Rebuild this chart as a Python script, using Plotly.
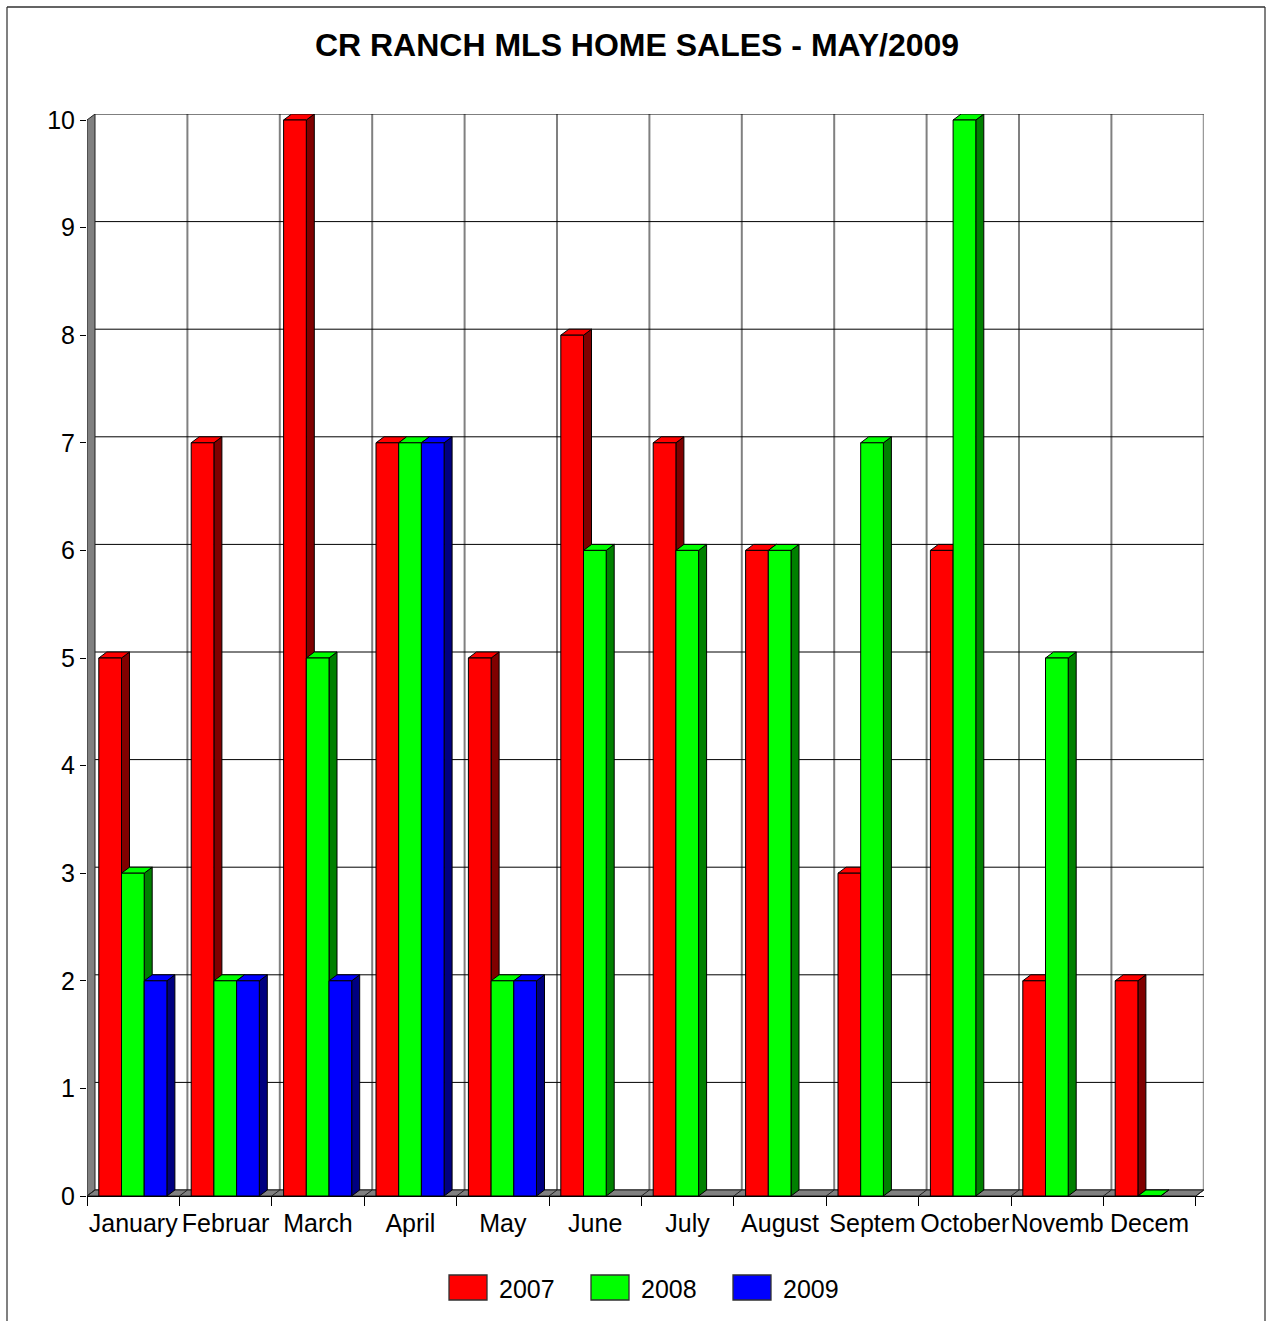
import plotly.graph_objects as go

months_label = ["January", "Februar", "March", "April", "May", "June", "July", "August", "Septem", "October", "Novemb", "Decem"]
sales_2007 = [5, 7, 10, 7, 5, 8, 7, 6, 3, 6, 2, 2]
sales_2008 = [3, 2, 5, 7, 2, 6, 6, 6, 7, 10, 5, 0]
sales_2009 = [2, 2, 2, 7, 2, None, None, None, None, None, None, None]
series_names = ["2007", "2008", "2009"]
front_colors = ["#FF0000", "#00FF00", "#0000FF"]
side_colors = ["#800000", "#008000", "#000080"]
y_ticks = list(range(11))

W, H = 1272, 1321
FONT = "Liberation Sans"
# pixel geometry of the pseudo-3D frame
LEFT, FRONT_RIGHT, BOTTOM, FRONT_TOP = 87.0, 1195.8, 1196.0, 120.0
DX_PX, DY_PX = 8.0, 6.0
px_x = (FRONT_RIGHT - LEFT) / 12
px_y = (BOTTOM - FRONT_TOP) / 10
dx, dy = DX_PX / px_x, DY_PX / px_y
bar_w = 22.7 / px_x
bar_off = 11.8 / px_x
x_range = [0, 12 + dx]
y_range = [0, 10 + dy]
PX = lambda p: p / W
PY = lambda p: 1 - p / H

fig = go.Figure()


def polys(list_of_pts, fill, line="black", lw=1.0):
    xs, ys = [], []
    for pts in list_of_pts:
        xs += [p[0] for p in pts] + [pts[0][0], None]
        ys += [p[1] for p in pts] + [pts[0][1], None]
    fig.add_trace(go.Scatter(x=xs, y=ys, mode="lines", fill="toself", fillcolor=fill,
                             line=dict(color=line, width=lw), hoverinfo="skip",
                             showlegend=False, cliponaxis=False))


def lines(segs, color, lw):
    xs, ys = [], []
    for a, b in segs:
        xs += [a[0], b[0], None]
        ys += [a[1], b[1], None]
    fig.add_trace(go.Scatter(x=xs, y=ys, mode="lines", line=dict(color=color, width=lw),
                             hoverinfo="skip", showlegend=False, cliponaxis=False))


# back-wall grid
lines([((k + dx, dy), (k + dx, 10 + dy)) for k in range(1, 13)], "#808080", 2)
lines([((dx, v + dy), (12 + dx, v + dy)) for v in y_ticks], "black", 1)
# left wall
polys([[(0, 0), (dx, dy), (dx, 10 + dy), (0, 10)]], "#808080", "#202020", 1)
# floor
polys([[(0, 0), (12, 0), (12 + dx, dy), (dx, dy)]], "#808080", "#202020", 1)
lines([((k, 0), (k + dx, dy)) for k in range(13)], "#202020", 1)

all_series = [sales_2007, sales_2008, sales_2009]
# sides and tops, back to front
for s, vals in enumerate(all_series):
    sides, tops = [], []
    for k, v in enumerate(vals):
        if v is None:
            continue
        x0 = k + bar_off + s * bar_w
        x1 = x0 + bar_w
        sides.append([(x1, 0), (x1 + dx, dy), (x1 + dx, v + dy), (x1, v)])
        tops.append([(x0, v), (x1, v), (x1 + dx, v + dy), (x0 + dx, v + dy)])
    polys(sides, side_colors[s])
    polys(tops, front_colors[s])

# front faces on an overlay subplot, above the faces
for s, vals in enumerate(all_series):
    fig.add_trace(go.Bar(
        x=[k + bar_off + (s + 0.5) * bar_w for k in range(12)],
        y=vals, width=bar_w, name=series_names[s],
        marker=dict(color=front_colors[s], line=dict(color="black", width=1)),
        xaxis="x2", yaxis="y2", showlegend=False, cliponaxis=False))

dom_x = [PX(LEFT), PX(FRONT_RIGHT + DX_PX)]
dom_y = [PY(BOTTOM), PY(FRONT_TOP - DY_PX)]

shapes = [
    dict(type="line", xref="paper", yref="paper", x0=PX(7), x1=PX(7), y0=PY(7), y1=PY(H + 5),
         line=dict(color="#808080", width=2)),
    dict(type="line", xref="paper", yref="paper", x0=PX(1265), x1=PX(1265), y0=PY(7), y1=PY(H + 5),
         line=dict(color="#808080", width=2)),
    dict(type="line", xref="paper", yref="paper", x0=PX(7), x1=PX(1265), y0=PY(7), y1=PY(7),
         line=dict(color="#303030", width=1.5)),
]
annotations = []
swatch_x = [449, 591, 733]
for s, name in enumerate(series_names):
    shapes.append(dict(type="rect", xref="paper", yref="paper",
                       x0=PX(swatch_x[s]), x1=PX(swatch_x[s] + 38), y0=PY(1300), y1=PY(1275),
                       fillcolor=front_colors[s], line=dict(color="#303030", width=1.3)))
    annotations.append(dict(xref="paper", yref="paper", x=PX(swatch_x[s] + 48), y=PY(1289),
                            xanchor="left", yanchor="middle", text=name, showarrow=False,
                            font=dict(family=FONT, size=25, color="black")))

fig.update_layout(
    width=W, height=H, margin=dict(l=0, r=0, t=0, b=0, autoexpand=False),
    paper_bgcolor="white", plot_bgcolor="rgba(0,0,0,0)",
    barmode="overlay", showlegend=False, shapes=shapes, annotations=annotations,
    title=dict(text="<b>CR RANCH MLS HOME SALES - MAY/2009</b>", x=637 / W, xref="paper", xanchor="center",
               y=PY(45), yref="container", yanchor="middle",
               font=dict(family=FONT, size=32, color="black")),
    xaxis=dict(domain=dom_x, range=x_range, showgrid=False, zeroline=False, showline=True,
               linecolor="black", linewidth=1, tickmode="array",
               tickvals=[k + 0.5 for k in range(12)], ticktext=months_label, tickangle=0,
               ticks="outside", ticklen=5, tickcolor="rgba(0,0,0,0)",
               tickfont=dict(family=FONT, size=25, color="black"),
               minor=dict(tickmode="array", tickvals=list(range(13)), ticks="outside",
                          ticklen=9, tickcolor="black", tickwidth=1, showgrid=False)),
    yaxis=dict(domain=dom_y, range=y_range, showgrid=False, zeroline=False, showline=False,
               tickmode="array", tickvals=y_ticks, ticktext=[str(v) for v in y_ticks],
               ticks="outside", ticklen=6, tickcolor="black", tickwidth=1,
               tickfont=dict(family=FONT, size=25, color="black")),
    xaxis2=dict(domain=dom_x, range=x_range, overlaying="x", anchor="y2", visible=False),
    yaxis2=dict(domain=dom_y, range=y_range, overlaying="y", anchor="x2", visible=False),
)

fig.write_html("out.html", config=dict(displayModeBar=False),
               post_script="document.body.style.margin='0';document.body.style.overflow='hidden';window.dispatchEvent(new Event('resize'));")
